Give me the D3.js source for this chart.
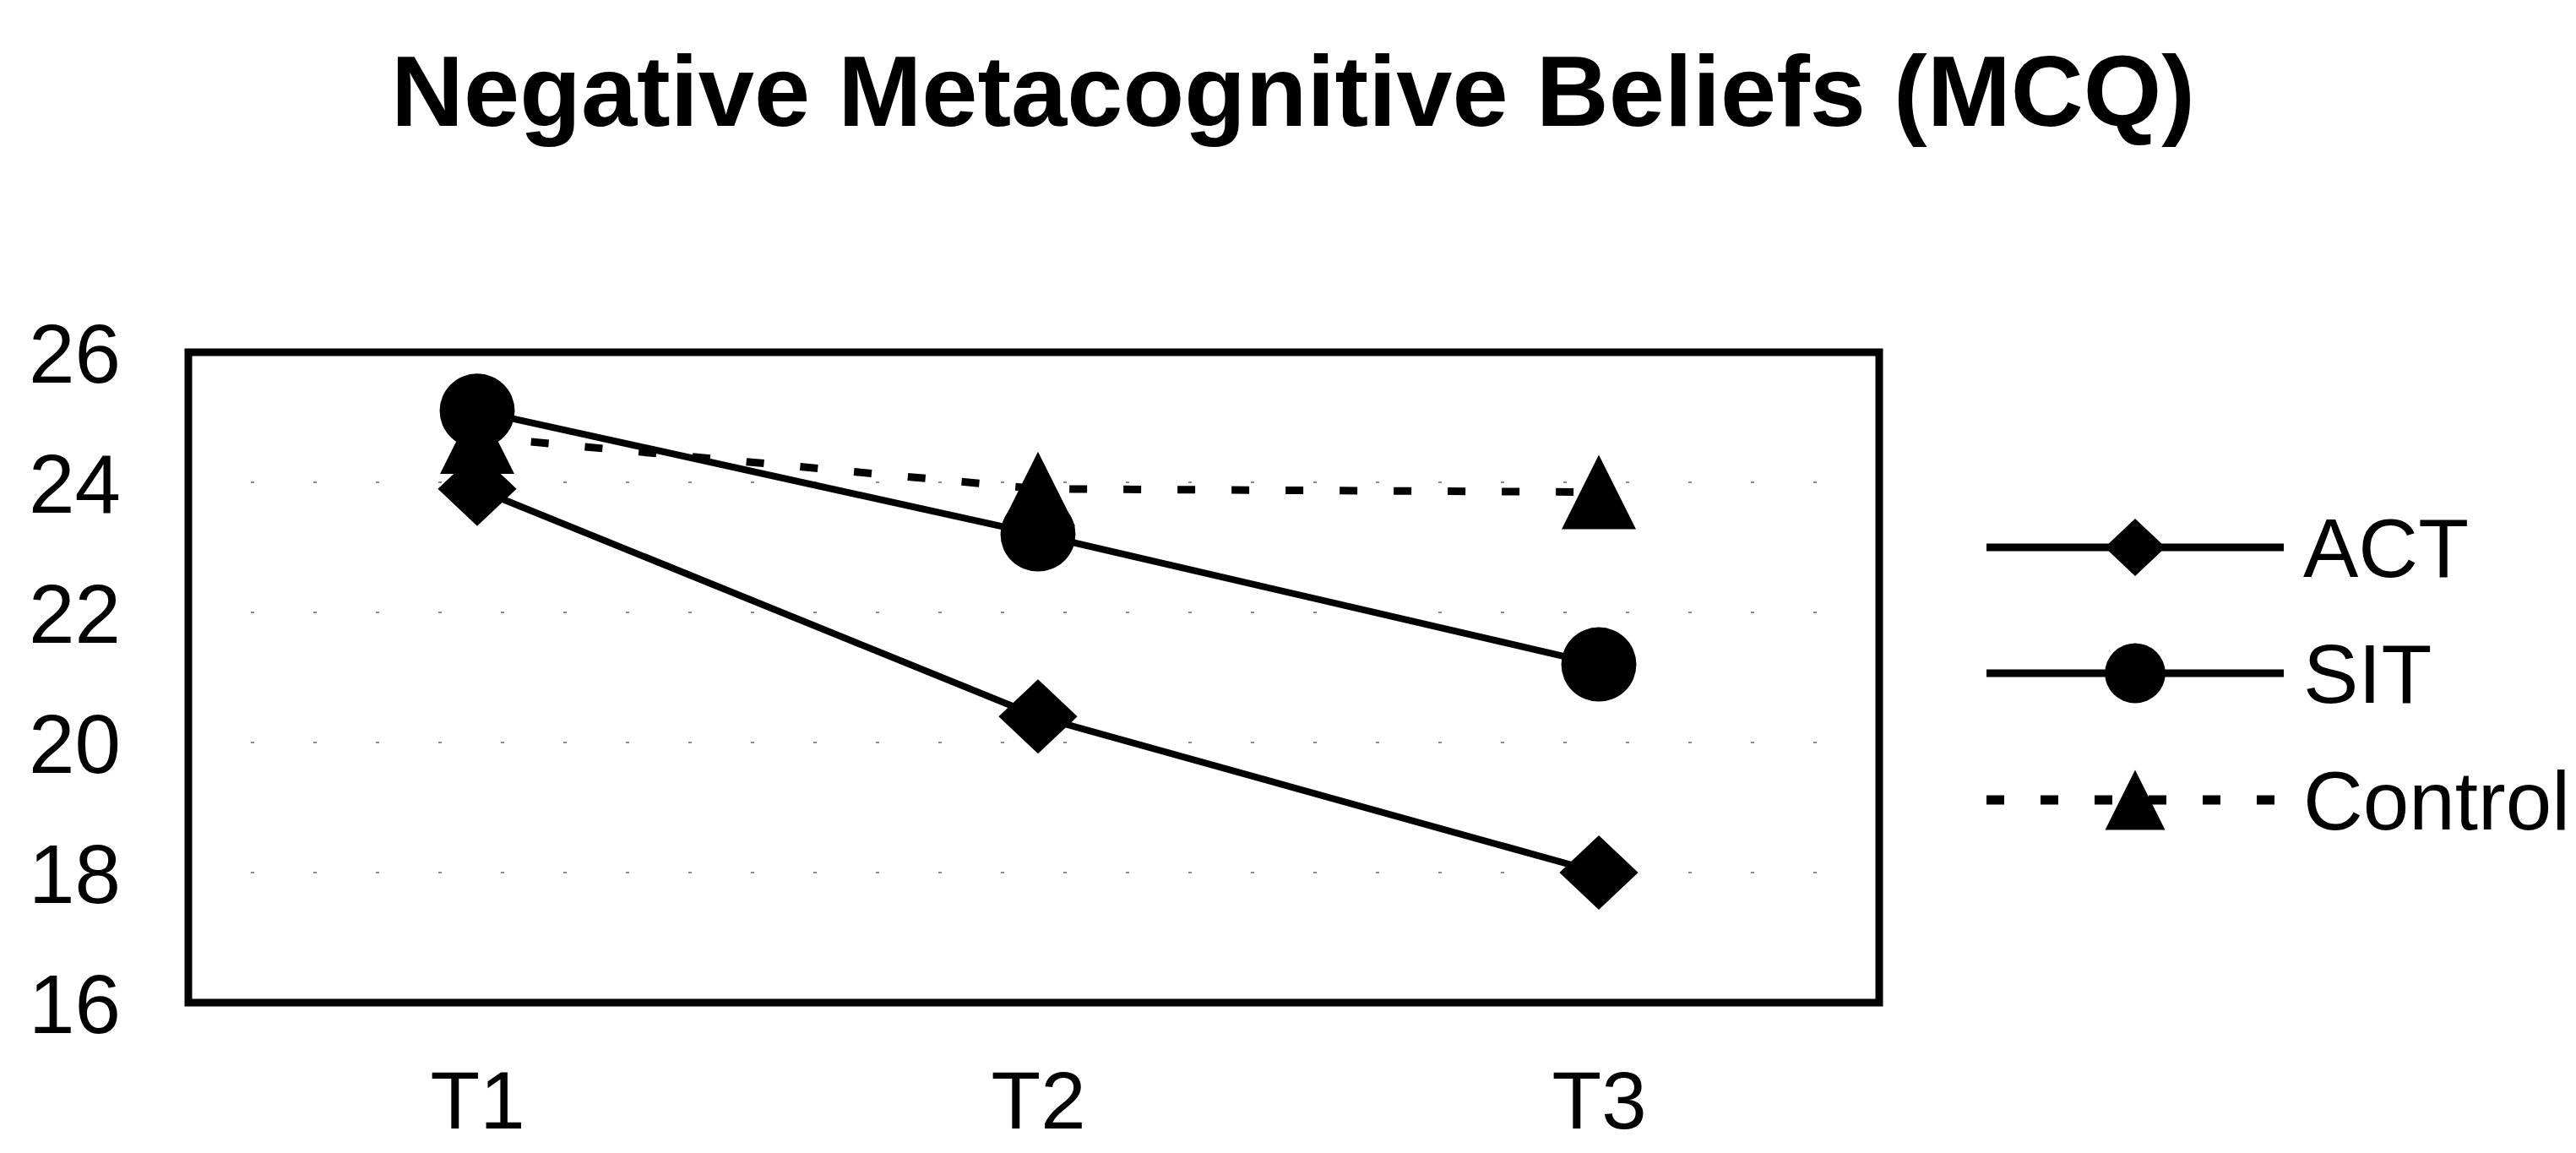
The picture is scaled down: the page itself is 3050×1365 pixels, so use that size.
<!DOCTYPE html>
<html>
<head>
<meta charset="utf-8">
<script src="https://cdn.jsdelivr.net/npm/d3@7"></script>
<style>
  html, body { margin: 0; padding: 0; background: #fff; }
  svg { display: block; }
  text { font-family: "Liberation Sans", Arial, Helvetica, sans-serif; fill: #000; }
</style>
</head>
<body>
<script>
// Measurement occasions and group means on the MCQ negative beliefs scale
const categories = ["T1", "T2", "T3"];
const actValues = [23.9, 20.4, 18.0];
const sitValues = [25.1, 23.2, 21.2];
const controlValues = [24.7, 23.9, 23.85];
const seriesNames = ["ACT", "SIT", "Control"];
const yTicks = [16, 18, 20, 22, 24, 26];
const titleText = "Negative Metacognitive Beliefs (MCQ)";

const W = 3050, H = 1365;
const box = { left: 223, right: 2225, top: 417, bottom: 1187 };

const svg = d3.select("body").append("svg")
  .attr("width", W).attr("height", H)
  .attr("viewBox", `0 0 ${W} ${H}`);

svg.append("rect").attr("width", W).attr("height", H).attr("fill", "#fff");

const x = d3.scalePoint().domain(categories)
  .range([box.left + 10, box.right]).padding(0.5);
const y = d3.scaleLinear().domain([16, 26]).range([box.bottom, box.top]);

// Title
svg.append("text")
  .attr("x", 1531).attr("y", 149)
  .attr("text-anchor", "middle")
  .attr("font-size", 119).attr("font-weight", "bold")
  .text(titleText);

// Faint horizontal gridlines
svg.append("g").selectAll("line")
  .data(yTicks.filter(t => t > 16 && t < 26))
  .join("line")
  .attr("x1", box.left).attr("x2", box.right)
  .attr("y1", d => y(d)).attr("y2", d => y(d))
  .attr("stroke", "#8a8a8a").attr("stroke-width", 2)
  .attr("stroke-dasharray", "4 70");

// Y axis labels
const yAxis = d3.axisLeft(y).tickValues(yTicks).tickSize(0).tickPadding(0);
const gy = svg.append("g").attr("transform", `translate(143,0)`).call(yAxis);
gy.select(".domain").remove();
gy.selectAll("text")
  .attr("font-size", 98)
  .attr("font-family", "\"Liberation Sans\", Arial, sans-serif")
  .attr("fill", "#000")
  .attr("x", 0)
  .attr("dy", "0.36em");

// X axis labels
const xAxis = d3.axisBottom(x).tickSize(0).tickPadding(0);
const gx = svg.append("g").attr("transform", `translate(0,1336)`).call(xAxis);
gx.select(".domain").remove();
gx.selectAll("text")
  .attr("font-size", 96)
  .attr("font-family", "\"Liberation Sans\", Arial, sans-serif")
  .attr("fill", "#000")
  .attr("y", 0)
  .attr("dy", 0);

// Plot frame
svg.append("rect")
  .attr("x", box.left).attr("y", box.top)
  .attr("width", box.right - box.left).attr("height", box.bottom - box.top)
  .attr("fill", "none").attr("stroke", "#000").attr("stroke-width", 9);

// Marker shapes
function diamondPath(cx, cy, w, h) {
  const p = d3.path();
  p.moveTo(cx, cy - h / 2); p.lineTo(cx + w / 2, cy);
  p.lineTo(cx, cy + h / 2); p.lineTo(cx - w / 2, cy); p.closePath();
  return p.toString();
}
function trianglePath(cx, cy, w, h) {
  const p = d3.path();
  p.moveTo(cx, cy - h / 2); p.lineTo(cx + w / 2, cy + h / 2);
  p.lineTo(cx - w / 2, cy + h / 2); p.closePath();
  return p.toString();
}
function drawMarker(g, shape, cx, cy, s) {
  if (shape === "diamond") {
    g.append("path").attr("d", diamondPath(cx, cy, s * 1.06, s)).attr("fill", "#000");
  } else if (shape === "circle") {
    g.append("ellipse").attr("cx", cx).attr("cy", cy)
      .attr("rx", s * 0.505).attr("ry", s * 0.5).attr("fill", "#000");
  } else {
    g.append("path").attr("d", trianglePath(cx, cy, s, s)).attr("fill", "#000");
  }
}

const series = [
  { name: seriesNames[0], values: actValues, shape: "diamond", dash: null, width: 8 },
  { name: seriesNames[1], values: sitValues, shape: "circle", dash: null, width: 8 },
  { name: seriesNames[2], values: controlValues, shape: "triangle", dash: "21 43", width: 9 }
];

const line = d3.line().x((d, i) => x(categories[i])).y(d => y(d));

const linesG = svg.append("g");
series.forEach(s => {
  linesG.append("path")
    .datum(s.values)
    .attr("d", line)
    .attr("fill", "none")
    .attr("stroke", "#000")
    .attr("stroke-width", s.width)
    .attr("stroke-dasharray", s.dash);
});

const markersG = svg.append("g");
series.forEach(s => {
  s.values.forEach((v, i) => {
    drawMarker(markersG, s.shape, x(categories[i]), y(v), 88);
  });
});

// Legend
const legend = svg.append("g");
const legendRows = [648, 797, 947];
series.forEach((s, i) => {
  const ly = legendRows[i];
  legend.append("line")
    .attr("x1", 2352).attr("x2", 2704)
    .attr("y1", ly).attr("y2", ly)
    .attr("stroke", "#000")
    .attr("stroke-width", s.dash ? 11 : 9)
    .attr("stroke-dasharray", s.dash);
  drawMarker(legend, s.shape, 2528, ly, s.shape === "diamond" ? 68 : 71);
  legend.append("text")
    .attr("x", 2727).attr("y", ly)
    .attr("dy", "0.36em")
    .attr("font-size", 98)
    .text(s.name);
});
</script>
</body>
</html>
